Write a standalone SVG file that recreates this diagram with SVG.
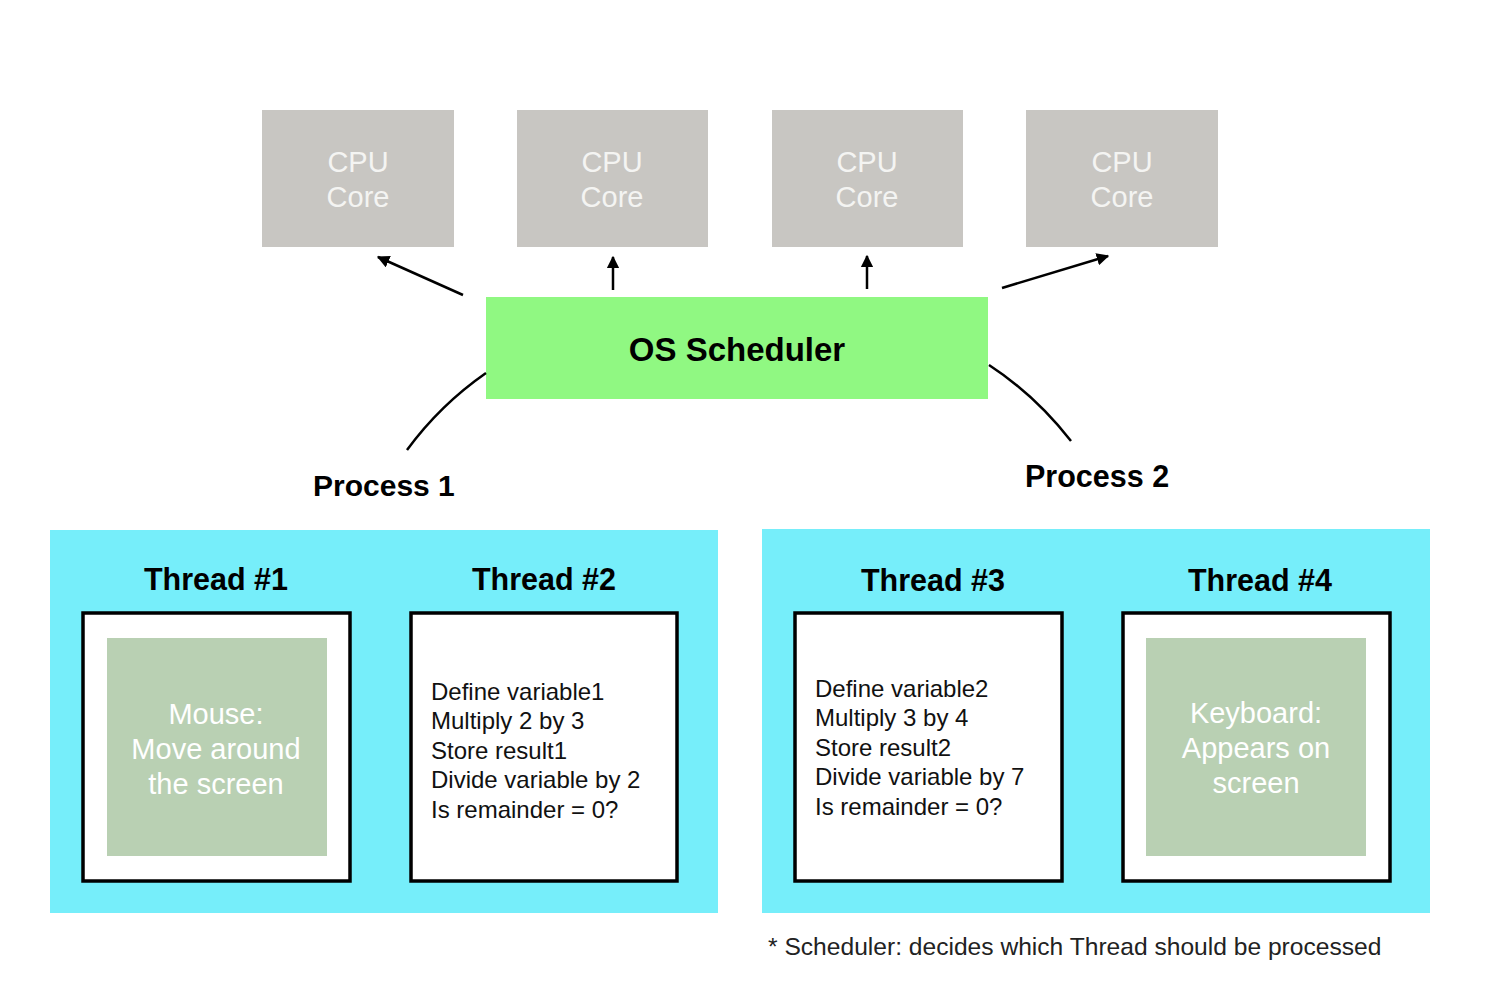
<svg xmlns="http://www.w3.org/2000/svg" width="1498" height="986" viewBox="0 0 1498 986">
<defs>
<style>
.cpu{fill:#c8c6c2}
.cput{font-family:"Liberation Sans",Arial,sans-serif;font-size:29px;fill:#f4f4f2;text-anchor:middle}
.bold{font-family:"Liberation Sans",Arial,sans-serif;font-weight:bold;fill:#000}
.proc{fill:#76eefa}
.thr{fill:#fff;stroke:#000;stroke-width:3.5}
.dev{fill:#b9d0b3}
.devt{font-family:"Liberation Sans",Arial,sans-serif;font-size:29px;fill:#fff;text-anchor:middle}
.code{font-family:"Liberation Sans",Arial,sans-serif;font-size:24px;fill:#111}
.note{font-family:"Liberation Sans",Arial,sans-serif;font-size:24.6px;fill:#222}
.conn{fill:none;stroke:#000;stroke-width:2.5}
</style>
<marker id="ah" viewBox="0 0 10 10" refX="9" refY="5" markerWidth="5" markerHeight="5" orient="auto" markerUnits="strokeWidth">
<path d="M0,0 L10,5 L0,10 z" fill="#000"/>
</marker>
</defs>
<rect width="1498" height="986" fill="#fff"/>

<g id="cpu1"><rect class="cpu" x="262" y="110" width="192" height="137"/><text class="cput" x="358" y="172">CPU</text><text class="cput" x="358" y="207">Core</text></g>
<g id="cpu2"><rect class="cpu" x="517" y="110" width="191" height="137"/><text class="cput" x="612" y="172">CPU</text><text class="cput" x="612" y="207">Core</text></g>
<g id="cpu3"><rect class="cpu" x="772" y="110" width="191" height="137"/><text class="cput" x="867" y="172">CPU</text><text class="cput" x="867" y="207">Core</text></g>
<g id="cpu4"><rect class="cpu" x="1026" y="110" width="192" height="137"/><text class="cput" x="1122" y="172">CPU</text><text class="cput" x="1122" y="207">Core</text></g>

<g id="scheduler"><rect x="486" y="297" width="502" height="102" fill="#90f882"/><text class="bold" x="737" y="361" font-size="33" text-anchor="middle">OS Scheduler</text></g>

<g id="connectors">
<line class="conn" x1="463" y1="295" x2="378" y2="257" marker-end="url(#ah)"/>
<line class="conn" x1="613" y1="290" x2="613" y2="257" marker-end="url(#ah)"/>
<line class="conn" x1="867" y1="289" x2="867" y2="256" marker-end="url(#ah)"/>
<line class="conn" x1="1002" y1="288" x2="1108" y2="256" marker-end="url(#ah)"/>
<path class="conn" d="M486,373 Q440,405 407,450"/>
<path class="conn" d="M989,365 Q1035,395 1071,441"/>
</g>

<g id="process1">
<text class="bold" x="313" y="496" font-size="30">Process 1</text>
<rect class="proc" x="50" y="530" width="668" height="383"/>
</g>
<g id="process2">
<text class="bold" x="1025" y="487" font-size="30.5">Process 2</text>
<rect class="proc" x="762" y="529" width="668" height="384"/>
</g>

<g id="thread1">
<text class="bold" x="216" y="590" font-size="30.5" text-anchor="middle">Thread #1</text>
<rect class="thr" x="83" y="613" width="267" height="268"/>
<rect class="dev" x="107" y="638" width="220" height="218"/>
<text class="devt" x="216" y="724">Mouse:</text>
<text class="devt" x="216" y="759">Move around</text>
<text class="devt" x="216" y="794">the screen</text>
</g>

<g id="thread2">
<text class="bold" x="544" y="590" font-size="30.5" text-anchor="middle">Thread #2</text>
<rect class="thr" x="411" y="613" width="266" height="268"/>
<text class="code" x="431" y="700">Define variable1</text>
<text class="code" x="431" y="729">Multiply 2 by 3</text>
<text class="code" x="431" y="759">Store result1</text>
<text class="code" x="431" y="788">Divide variable by 2</text>
<text class="code" x="431" y="818">Is remainder = 0?</text>
</g>

<g id="thread3">
<text class="bold" x="933" y="591" font-size="30.5" text-anchor="middle">Thread #3</text>
<rect class="thr" x="795" y="613" width="267" height="268"/>
<text class="code" x="815" y="697">Define variable2</text>
<text class="code" x="815" y="726">Multiply 3 by 4</text>
<text class="code" x="815" y="756">Store result2</text>
<text class="code" x="815" y="785">Divide variable by 7</text>
<text class="code" x="815" y="815">Is remainder = 0?</text>
</g>

<g id="thread4">
<text class="bold" x="1260" y="591" font-size="30.5" text-anchor="middle">Thread #4</text>
<rect class="thr" x="1123" y="613" width="267" height="268"/>
<rect class="dev" x="1146" y="638" width="220" height="218"/>
<text class="devt" x="1256" y="723">Keyboard:</text>
<text class="devt" x="1256" y="758">Appears on</text>
<text class="devt" x="1256" y="793">screen</text>
</g>

<g id="footnote"><text class="note" x="768" y="955">* Scheduler: decides which Thread should be processed</text></g>
</svg>
